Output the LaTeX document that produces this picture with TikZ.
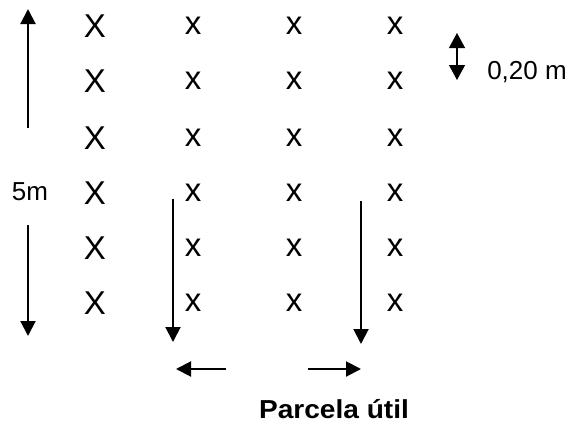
\documentclass[tikz,border=0pt]{standalone}
\usepackage{fontspec}
\setmainfont{Liberation Sans}
\usetikzlibrary{arrows.meta}
\begin{document}
\begin{tikzpicture}[x=1pt,y=-1pt,
  gridmark/.style={inner sep=0pt,font=\fontsize{33}{33}\selectfont},
  lbl/.style={inner sep=0pt,font=\fontsize{26}{26}\selectfont},
  arr/.style={line width=2pt,-{Triangle[length=15pt,width=15pt]}},
  darr/.style={line width=1.3pt,{Triangle[length=15pt,width=16pt]}-{Triangle[length=15pt,width=16pt]}}]
\useasboundingbox (0,0) rectangle (572,423);
\foreach \r/\y in {1/26,2/81,3/138,4/193,5/248,6/303} {
  \node[gridmark] (a\r) at (95,\y) {X};
  \node[gridmark] (b\r) at (193,\y) {x};
  \node[gridmark] (c\r) at (294,\y) {x};
  \node[gridmark] (d\r) at (395,\y) {x};
}
% 5 m arrow
\coordinate (upA) at (28,128);
\coordinate (upB) at (28,9);
\draw[arr] (upA) -- (upB);
\node[lbl] (fivem) at (30,192) {5m};
\coordinate (dnA) at (28,225);
\coordinate (dnB) at (28,336);
\draw[arr] (dnA) -- (dnB);
% inner arrows
\coordinate (l1) at (173,199);
\coordinate (l2) at (173,342);
\draw[arr] (l1) -- (l2);
\coordinate (r1) at (361,201);
\coordinate (r2) at (361,344);
\draw[arr] (r1) -- (r2);
\coordinate (h1) at (226,369);
\coordinate (h2) at (176,369);
\draw[arr] (h1) -- (h2);
\coordinate (h3) at (308,369);
\coordinate (h4) at (361,369);
\draw[arr] (h3) -- (h4);
% spacing arrow
\coordinate (s1) at (457,33);
\coordinate (s2) at (457,80);
\draw[darr] (s1) -- (s2);
\node[lbl] (sp) at (527,72) {0,20 m};
\node[inner sep=0pt,anchor=base,xscale=1.08,transform shape,font=\fontsize{26}{26}\selectfont\bfseries] (pu) at (334,418) {Parcela útil};
\end{tikzpicture}
\end{document}
